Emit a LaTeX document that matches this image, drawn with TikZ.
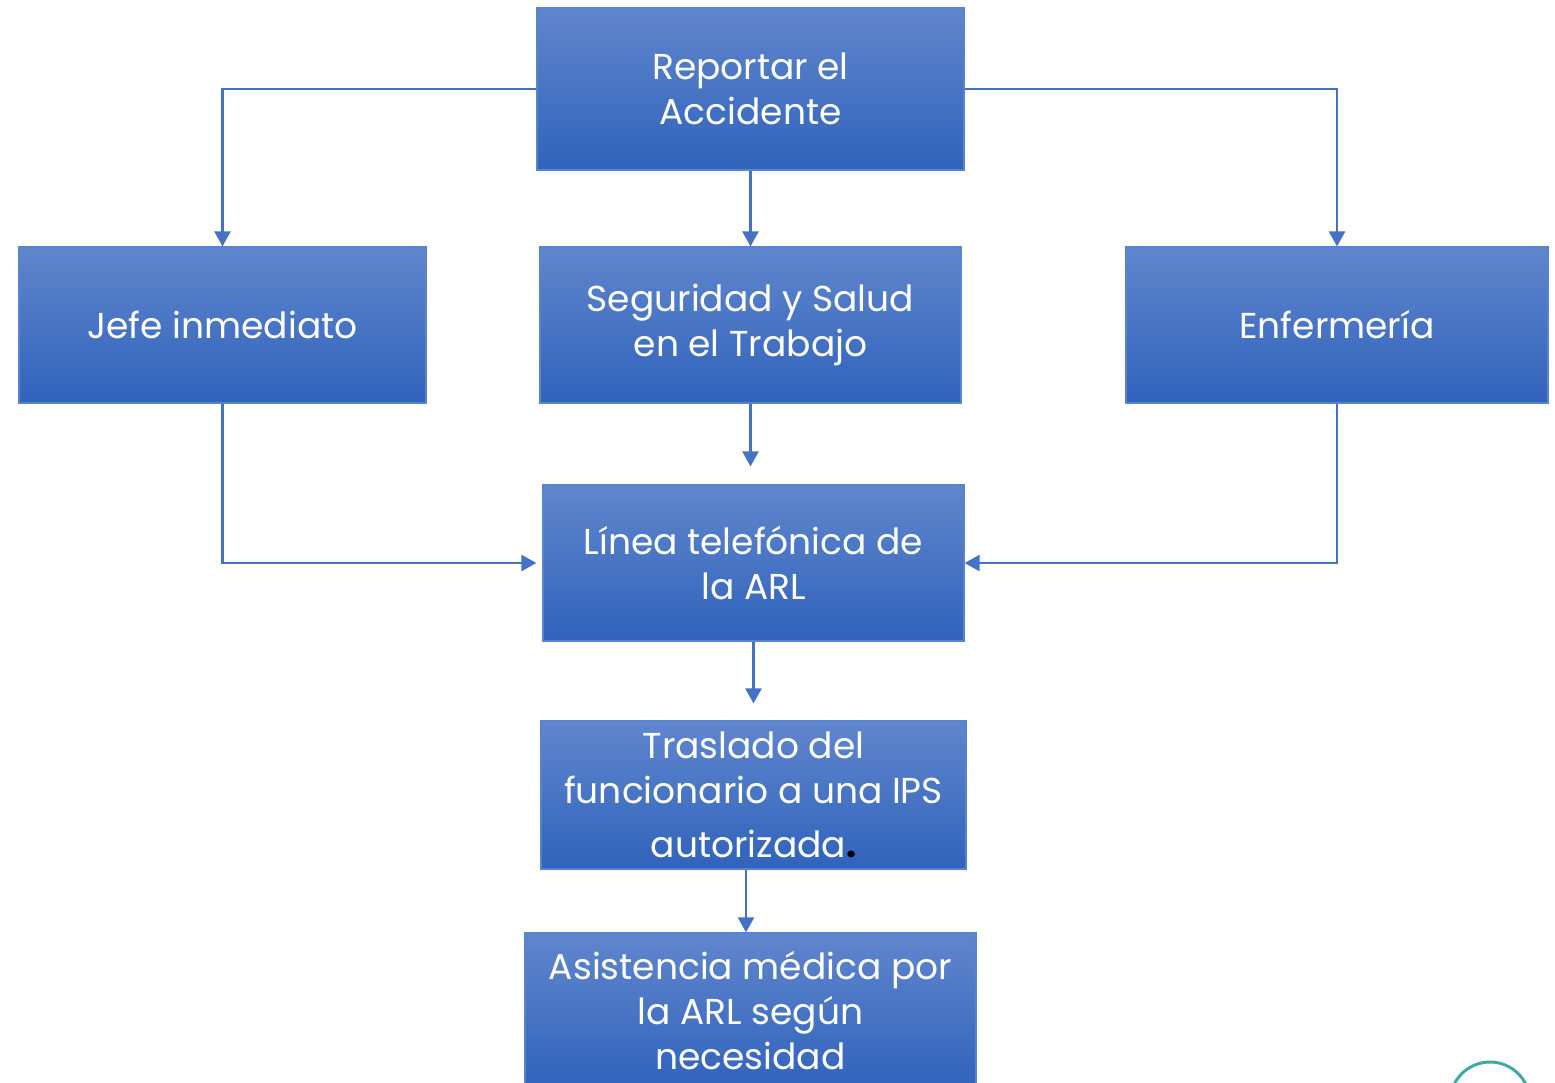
\documentclass[tikz,border=0pt]{standalone}
\usepackage{fontspec}
\setmainfont{Poppins}
\usetikzlibrary{arrows.meta,calc}
\definecolor{boxtop}{HTML}{6086CD}
\definecolor{boxbot}{HTML}{3063BB}
\definecolor{boxedge}{HTML}{5A83CF}
\definecolor{linec}{HTML}{4472C4}
\definecolor{logoc}{HTML}{3FA9A5}
\tikzset{
  flowbox/.style={rectangle, top color=boxtop, bottom color=boxbot, draw=boxedge, line width=1.2pt,
    inner sep=0pt, align=center, text=white, font=\fontsize{36}{45}\selectfont},
  conn/.style={draw=linec, line width=2.4pt, -{Triangle[width=16pt,length=15pt]}}
}
\begin{document}
\begin{tikzpicture}[x=1pt,y=-1pt]
\useasboundingbox (0,0) rectangle (1555,1082);
\begin{scope}
\clip (0,0) rectangle (1555,1082);
\node[flowbox, minimum width=427pt, minimum height=162pt] (rep) at (750.5,89) {Reportar el\\Accidente};
\node[flowbox, minimum width=407pt, minimum height=156pt] (jefe) at (222.5,325) {Jefe inmediato};
\node[flowbox, minimum width=421pt, minimum height=156pt] (seg) at (750.5,325) {Seguridad y Salud\\en el Trabajo};
\node[flowbox, minimum width=422pt, minimum height=156pt] (enf) at (1337,325) {Enfermería};
\node[flowbox, minimum width=421pt, minimum height=156pt] (lin) at (753.5,563) {Línea telefónica de\\la ARL};
\node[flowbox, minimum width=425pt, minimum height=148pt] (tras) at (753.5,795) {Traslado del\\funcionario a una IPS\\[9pt]autorizada\textcolor{black}{\textbf{.}}};
\node[flowbox, minimum width=451pt, minimum height=156pt] (asis) at (750.5,1011) {Asistencia médica por\\la ARL según\\necesidad};
\draw[conn] (rep.west) -| (jefe.north);
\draw[conn] (rep.south) -- (seg.north);
\draw[conn] (rep.east) -| (enf.north);
\draw[conn, shorten >=6pt] (jefe.south) |- (lin.west);
\draw[conn, shorten >=18pt] (seg.south) -- (seg.south |- lin.north);
\draw[conn] (enf.south) |- (lin.east);
\draw[conn, shorten >=17pt] (lin.south) -- (tras.north);
\coordinate (tb) at ($(tras.south)+(-7.5,0)$);
\draw[conn] (tb) -- (tb |- asis.north);
\node[circle, draw=logoc, line width=3pt, minimum size=80pt] (logo) at (1490,1102) {};
\end{scope}
\end{tikzpicture}
\end{document}
